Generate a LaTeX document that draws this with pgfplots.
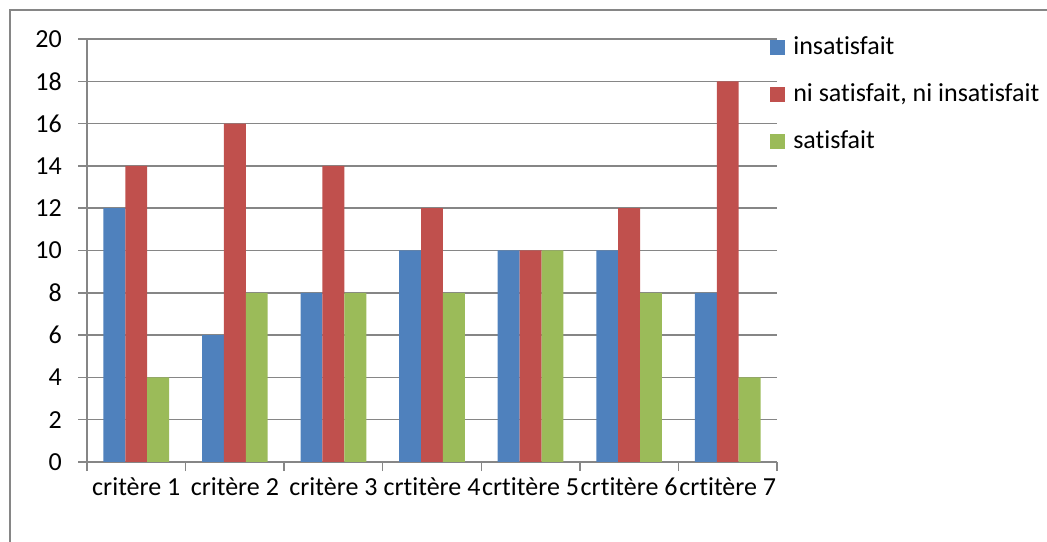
\documentclass[border=0pt]{standalone}
\usepackage{fontspec}
\setmainfont{Carlito}[Ligatures=NoCommon]
\usepackage{pgfplots}
\pgfplotsset{compat=1.18}
\definecolor{cblue}{HTML}{4F81BD}
\definecolor{cred}{HTML}{C0504D}
\definecolor{cgreen}{HTML}{9BBB59}
\definecolor{axgray}{HTML}{868686}
\begin{document}
\fontsize{26}{31}\selectfont
\begin{tikzpicture}[x=1pt,y=1pt]
\useasboundingbox (0,0) rectangle (1047,541);
\draw[color=axgray, line width=1.5pt] (10,-5) -- (10,531) -- (1060,531);
\begin{axis}[
  at={(87pt,79pt)}, anchor=south west,
  scale only axis, width=690pt, height=423pt,
  ybar=0pt, bar width=21.9pt,
  ymin=0, ymax=20, ytick={0,2,...,20},
  xmin=-0.5, xmax=6.5,
  xtick={-0.5,0.5,1.5,2.5,3.5,4.5,5.5,6.5},
  x tick label as interval,
  xticklabels={critère 1,critère 2,critère 3,crtitère 4,crtitère 5,crtitère 6,crtitère 7},
  axis x line*=bottom, axis y line*=left,
  axis line style={-, color=axgray, line width=1.5pt},
  tick align=outside,
  major tick length=9pt,
  tick style={color=axgray, line width=1.5pt},
  ymajorgrids, grid style={color=axgray, line width=1.5pt},
  /pgf/number format/assume math mode=true,
  tick label style={font=\fontsize{26}{31}\selectfont},
  yticklabel style={anchor=east, inner sep=0pt, xshift=-16pt},
  xticklabel style={anchor=north, inner sep=0pt, yshift=-6pt},
  legend style={at={(0.99,1.01)}, anchor=north west, draw=none, fill=none,
    font=\fontsize{26}{31}\selectfont, row sep=21pt, inner sep=0pt,
    legend cell align=left,
    /tikz/every odd column/.append style={column sep=6pt}},
  legend image code/.code={\fill[#1] (0pt,-7.5pt) rectangle (15pt,7.5pt);},
  clip=false,
]
\addplot[fill=cblue, draw=none] coordinates {(0,12) (1,6) (2,8) (3,10) (4,10) (5,10) (6,8)};
\addplot[fill=cred, draw=none] coordinates {(0,14) (1,16) (2,14) (3,12) (4,10) (5,12) (6,18)};
\addplot[fill=cgreen, draw=none] coordinates {(0,4) (1,8) (2,8) (3,8) (4,10) (5,8) (6,4)};
\legend{insatisfait, {ni satisfait, ni insatisfait}, satisfait}
\end{axis}
\end{tikzpicture}
\end{document}
